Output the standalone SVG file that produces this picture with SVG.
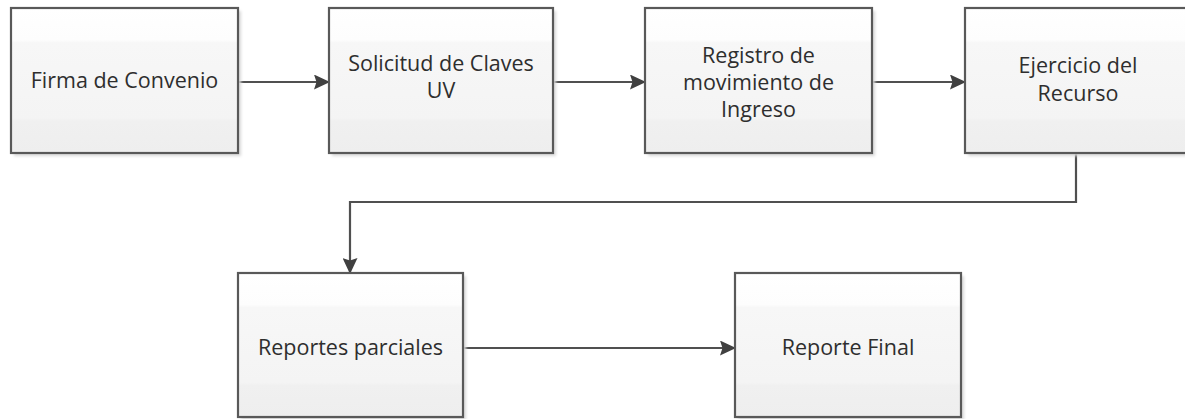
<svg xmlns="http://www.w3.org/2000/svg" width="1185" height="419" viewBox="0 0 1185 419">
<defs>
<linearGradient id="g" x1="0" y1="0" x2="0" y2="1">
<stop offset="0" stop-color="#ffffff"/>
<stop offset="0.22" stop-color="#fdfdfd"/>
<stop offset="0.24" stop-color="#f7f7f7"/>
<stop offset="0.76" stop-color="#f4f4f4"/>
<stop offset="0.78" stop-color="#f0f0f0"/>
<stop offset="1" stop-color="#eeeeee"/>
</linearGradient>
<filter id="sh" x="-10%" y="-10%" width="130%" height="130%">
<feGaussianBlur stdDeviation="1.5"/>
</filter>
<marker id="ah" markerWidth="16" markerHeight="15" refX="15" refY="7.5" orient="auto" markerUnits="userSpaceOnUse">
<path d="M0,0 L16,7.5 L0,15 L2.5,7.5 Z" fill="#404040"/>
</marker>
</defs>
<style>
.box{fill:url(#g);stroke:#595959;stroke-width:2.2}
.shadow{fill:#d8d8d8;filter:url(#sh)}
.t{font-family:"Open Sans","Noto Sans",sans-serif;font-size:21.5px;fill:#2e2e2e;text-anchor:middle}
.c{fill:none;stroke:#505050;stroke-width:2.2;marker-end:url(#ah)}
</style>
<g id="connectors">
<path class="c" d="M238,82 H329"/>
<path class="c" d="M553,82 H645"/>
<path class="c" d="M872,82 H965"/>
<path class="c" d="M1076,153 V202 H350 V273"/>
<path class="c" d="M463,348 H735"/>
</g>
<g id="n1">
<rect class="shadow" x="14" y="11" width="227" height="145"/>
<rect class="box" x="11" y="8" width="227" height="145"/>
<text class="t" x="124.5" y="88">Firma de Convenio</text>
</g>
<g id="n2">
<rect class="shadow" x="332" y="11" width="224" height="145"/>
<rect class="box" x="329" y="8" width="224" height="145"/>
<text class="t" x="441" y="71">Solicitud de Claves</text>
<text class="t" x="441" y="98">UV</text>
</g>
<g id="n3">
<rect class="shadow" x="648" y="11" width="227" height="145"/>
<rect class="box" x="645" y="8" width="227" height="145"/>
<text class="t" x="758.5" y="63">Registro de</text>
<text class="t" x="758.5" y="90">movimiento de</text>
<text class="t" x="758.5" y="117">Ingreso</text>
</g>
<g id="n4">
<rect class="shadow" x="968" y="11" width="227" height="145"/>
<rect class="box" x="965" y="8" width="227" height="145"/>
<text class="t" x="1078" y="73">Ejercicio del</text>
<text class="t" x="1078" y="101">Recurso</text>
</g>
<g id="n5">
<rect class="shadow" x="241" y="276" width="225" height="144"/>
<rect class="box" x="238" y="273" width="225" height="144"/>
<text class="t" x="350.5" y="355">Reportes parciales</text>
</g>
<g id="n6">
<rect class="shadow" x="738" y="276" width="226" height="144"/>
<rect class="box" x="735" y="273" width="226" height="144"/>
<text class="t" x="848" y="355">Reporte Final</text>
</g>
</svg>
